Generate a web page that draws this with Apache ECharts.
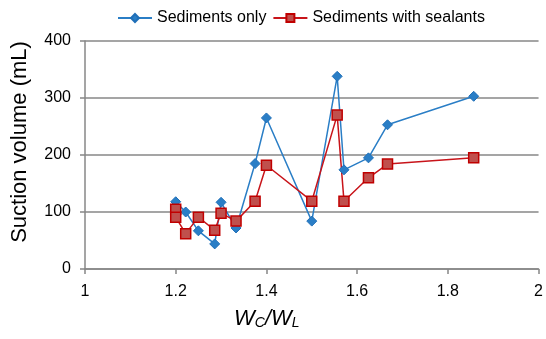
<!DOCTYPE html>
<html>
<head>
<meta charset="utf-8">
<script src="https://cdn.jsdelivr.net/npm/echarts@6/dist/echarts.min.js"></script>
<style>
  html, body { margin: 0; padding: 0; background: #fff; }
  #main { width: 546px; height: 339px; }
</style>
</head>
<body>
<div id="main"></div>
<script>
// W_C/W_L ratios and suction volumes (mL)
const ratioOnly = [1.2, 1.222, 1.25, 1.286, 1.3, 1.333, 1.375, 1.4, 1.5, 1.556, 1.571, 1.625, 1.667, 1.857]
const volumeOnly = [118, 100, 67, 44, 117, 72, 185, 265, 84, 338, 174, 195, 253, 303]

const ratioSealed = [1.2, 1.2, 1.222, 1.25, 1.286, 1.3, 1.333, 1.375, 1.4, 1.5, 1.556, 1.571, 1.625, 1.667, 1.857]
const volumeSealed = [105, 91, 62, 91, 68, 98, 84, 119, 182, 119, 270, 119, 160, 184, 195]

const xTicks = { min: 1, max: 2, step: 0.2 }
const yTicks = { min: 0, max: 400, step: 100 }

const pairs = (xs, ys) => xs.map((x, i) => [x, ys[i]])

var chartDom = document.getElementById('main');
var myChart = echarts.init(chartDom);
var option;

option = {
    animation: false,
    textStyle: { fontFamily: 'Liberation Sans, Arial, sans-serif' },
    legend: {
        top: 5,
        left: 112,
        itemWidth: 34,
        itemHeight: 10,
        itemGap: 6,
        textStyle: { fontSize: 16, color: '#000' },
        data: ['Sediments only', 'Sediments with sealants']
    },
    grid: {
        left: 85,
        right: 5,
        top: 41,
        bottom: 70
    },
    xAxis: {
        type: 'value',
        min: xTicks.min,
        max: xTicks.max,
        interval: xTicks.step,
        name: '{i|W}{s|C}{i|/W}{s|L}',
        nameLocation: 'middle',
        nameGap: 35,
        nameTextStyle: {
            padding: [0, 90, 0, 0],
            rich: {
                i: { fontSize: 22, fontStyle: 'italic', color: '#000', lineHeight: 26, verticalAlign: 'bottom' },
                s: { fontSize: 14, fontStyle: 'italic', color: '#000', padding: [10, 0, 0, 0], verticalAlign: 'bottom' }
            }
        },
        axisLine: { show: true, lineStyle: { color: '#878787', width: 1.5 } },
        axisTick: { show: true, length: 5, lineStyle: { color: '#878787', width: 1.5 } },
        axisLabel: { fontSize: 16, color: '#000', margin: 15 },
        splitLine: { show: false }
    },
    yAxis: {
        type: 'value',
        min: yTicks.min,
        max: yTicks.max,
        interval: yTicks.step,
        name: 'Suction volume (mL)',
        nameLocation: 'middle',
        nameRotate: 90,
        nameGap: 54,
        nameTextStyle: { fontSize: 22, color: '#000', padding: [0, 0, 0, 26] },
        axisLine: { show: true, lineStyle: { color: '#878787', width: 1.5 } },
        axisTick: { show: true, length: 5, lineStyle: { color: '#878787', width: 1.5 } },
        axisLabel: { fontSize: 16, color: '#000', margin: 14 },
        splitLine: { show: true, lineStyle: { color: '#878787', width: 1.5 } }
    },
    series: [
        {
            name: 'Sediments only',
            type: 'line',
            data: pairs(ratioOnly, volumeOnly),
            symbol: 'diamond',
            symbolSize: 10,
            lineStyle: { color: '#2a7ec6', width: 1.5 },
            itemStyle: { color: '#2a7ec6', borderColor: '#1f6fb8', borderWidth: 1 }
        },
        {
            name: 'Sediments with sealants',
            type: 'line',
            data: pairs(ratioSealed, volumeSealed),
            symbol: 'rect',
            symbolSize: 10,
            lineStyle: { color: '#c8141a', width: 1.5 },
            itemStyle: { color: '#c0504d', borderColor: '#c00000', borderWidth: 1.5 }
        }
    ]
};
option && myChart.setOption(option);
</script>
</body>
</html>
